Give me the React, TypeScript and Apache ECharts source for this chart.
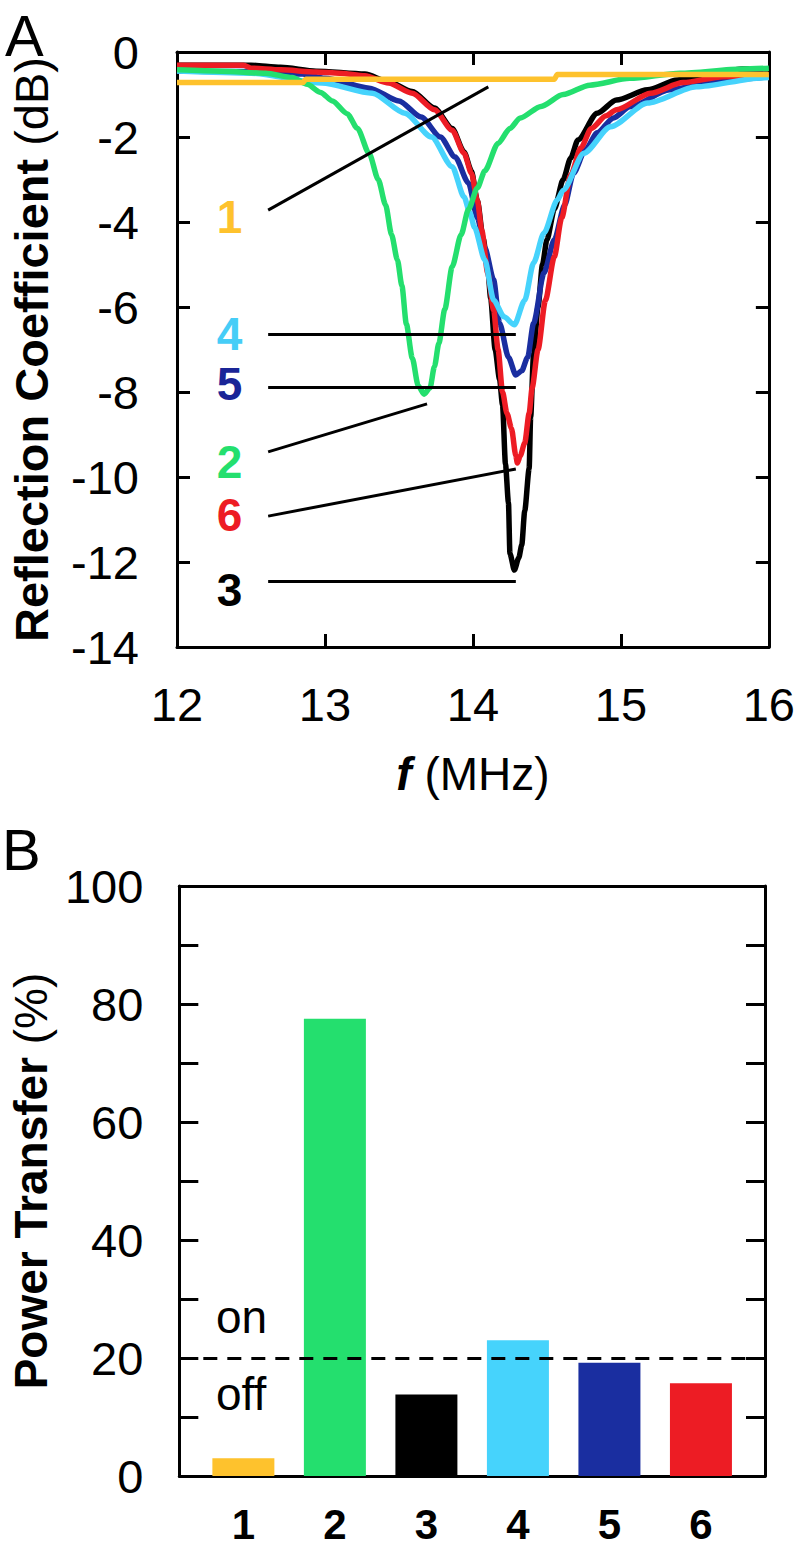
import React, { useEffect, useRef } from "react";
import * as echarts from "echarts";

const FONT = "'Liberation Sans', Arial, Helvetica, sans-serif";

// ---------- Panel A: reflection coefficient curves [f (MHz), dB] ----------
const curve1: number[][] = [
  [12, -0.72], [12.85, -0.72], [12.87, -0.64], [14.55, -0.64], [14.57, -0.53], [16, -0.53],
];
const curve2: number[][] = [
  [12, -0.42], [12.3, -0.45], [12.6, -0.5], [12.78, -0.6], [12.88, -0.76],
  [12.97, -0.95], [13.05, -1.15], [13.15, -1.45], [13.22, -1.8], [13.3, -2.4], [13.36, -3.0],
  [13.41, -3.6], [13.45, -4.3], [13.49, -4.9], [13.52, -5.5], [13.55, -6.4], [13.59, -7.2],
  [13.63, -7.85], [13.67, -8.05], [13.71, -7.9], [13.74, -7.4], [13.77, -6.85], [13.81, -6.05],
  [13.86, -5.05], [13.92, -4.3], [13.97, -3.7], [14.03, -3.2], [14.08, -2.8], [14.17, -2.15],
  [14.25, -1.8], [14.32, -1.55], [14.46, -1.28], [14.61, -1.0], [14.79, -0.78], [15.06, -0.62],
  [15.4, -0.5], [15.82, -0.4], [16, -0.38],
];
const curve3: number[][] = [
  [12, -0.31], [12.5, -0.31], [12.7, -0.36], [12.94, -0.45], [13.27, -0.52], [13.43, -0.7],
  [13.59, -0.93], [13.74, -1.32], [13.86, -1.8], [13.94, -2.35], [13.99, -2.8], [14.03, -3.5],
  [14.07, -4.4], [14.1, -5.1], [14.12, -5.8], [14.15, -7.0], [14.18, -7.7], [14.2, -8.3],
  [14.22, -9.7], [14.24, -10.6], [14.25, -11.8], [14.28, -12.19], [14.31, -11.9], [14.33, -11.6],
  [14.35, -10.8], [14.38, -9.8], [14.39, -8.6], [14.41, -7.1], [14.44, -6.0], [14.47, -5.0],
  [14.5, -4.42], [14.55, -3.7], [14.61, -3.0], [14.66, -2.5], [14.71, -2.07], [14.84, -1.44],
  [14.97, -1.13], [15.18, -0.89], [15.38, -0.66], [15.58, -0.54], [15.82, -0.4], [16, -0.4],
];
const curve4: number[][] = [
  [12, -0.45], [12.5, -0.5], [12.98, -0.73], [13.32, -0.97], [13.54, -1.44], [13.72, -2.0],
  [13.86, -2.7], [13.94, -3.41], [13.98, -3.79], [14.01, -4.12], [14.08, -4.89], [14.14, -5.84],
  [14.21, -6.23], [14.28, -6.42], [14.35, -5.84], [14.41, -4.96], [14.48, -4.26], [14.57, -3.48],
  [14.61, -3.25], [14.75, -2.38], [14.93, -1.76], [15.18, -1.2], [15.51, -0.82], [15.95, -0.61],
  [16, -0.6],
];
const curve5: number[][] = [
  [12, -0.45], [12.5, -0.46], [12.85, -0.52], [13.0, -0.62], [13.3, -0.85], [13.5, -1.15],
  [13.65, -1.53], [13.78, -2.0], [13.88, -2.47], [13.97, -3.08], [14.03, -3.9], [14.08, -4.6],
  [14.14, -5.36], [14.18, -6.38], [14.24, -7.18], [14.29, -7.6], [14.33, -7.5], [14.37, -7.18],
  [14.41, -6.38], [14.48, -5.2], [14.55, -4.42], [14.62, -3.6], [14.68, -2.85], [14.76, -2.3],
  [14.84, -1.9], [14.95, -1.55], [15.06, -1.29], [15.33, -0.89], [15.69, -0.66], [16, -0.58],
];
const curve6: number[][] = [
  [12, -0.31], [12.45, -0.31], [12.5, -0.38], [12.7, -0.42], [12.94, -0.47], [13.1, -0.5],
  [13.27, -0.56], [13.43, -0.73], [13.59, -0.97], [13.74, -1.36], [13.86, -1.84], [13.94, -2.38],
  [13.99, -2.85], [14.03, -3.5], [14.06, -4.2], [14.1, -5.2], [14.14, -6.07], [14.17, -7.0],
  [14.2, -8.0], [14.23, -8.5], [14.26, -8.85], [14.29, -9.5], [14.3, -9.67], [14.32, -9.5],
  [14.35, -9.2], [14.38, -8.5], [14.4, -7.9], [14.44, -7.0], [14.49, -5.84], [14.55, -4.82],
  [14.6, -3.9], [14.66, -2.9], [14.73, -2.25], [14.8, -1.8], [14.9, -1.5], [14.97, -1.36],
  [15.2, -0.97], [15.42, -0.72], [15.69, -0.58], [16, -0.55],
];

const curveNames = ["1", "2", "3", "4", "5", "6"];
const curveColors = ["#FEC22D", "#24DF6E", "#000000", "#46D3FC", "#1A2EA0", "#ED1C24"];
const labelColors = ["#FEC22D", "#24DF6E", "#000000", "#46CDF7", "#1A2597", "#ED1C24"];
const curves = [curve1, curve2, curve3, curve4, curve5, curve6];
const drawOrder = [2, 4, 5, 3, 1, 0]; // black, blue, red, cyan, green, yellow

// annotation leader lines (data coords) and number labels
const leaderLines: number[][][] = [
  [[12.616, -3.72], [14.104, -0.82]],
  [[12.616, -9.41], [13.69, -8.28]],
  [[12.616, -12.45], [14.29, -12.45]],
  [[12.616, -6.64], [14.29, -6.64]],
  [[12.616, -7.88], [14.29, -7.88]],
  [[12.616, -10.92], [14.29, -9.81]],
];
const labelPos: number[][] = [
  [12.355, -3.88], [12.355, -9.65], [12.355, -12.66], [12.355, -6.63], [12.355, -7.81], [12.355, -10.89],
];

// ---------- Panel B: power transfer ----------
const barCategories = [1, 2, 3, 4, 5, 6];
const barValues = [3.0, 77.5, 13.8, 23.0, 19.2, 15.7];
const threshold = 20;
const onPos = [0.7, 26.9];
const offPos = [0.7, 13.9];

const axisLineStyle = { color: "#000", width: 3 };

export default function App() {
  const ref = useRef<HTMLDivElement>(null);
  useEffect(() => {
    if (!ref.current) return;
    const chart = echarts.init(ref.current, undefined, { renderer: "svg" });
    const tickLabel = { fontSize: 47, color: "#000", fontFamily: FONT };
    const option: any = {
      animation: false,
      grid: [
        { left: 173, top: 52, width: 597, height: 595 },
        { left: 173, top: 886, width: 592, height: 590 },
      ],
      xAxis: [
        {
          gridIndex: 0, type: "value", min: 12, max: 16, interval: 1, position: "bottom",
          axisLine: { onZero: false, lineStyle: axisLineStyle },
          axisTick: { inside: true, length: 13, lineStyle: { width: 3, color: "#000" } },
          axisLabel: { ...tickLabel, margin: 34 },
          splitLine: { show: false },
          name: "{i|f} (MHz)", nameLocation: "middle", nameGap: 104,
          nameTextStyle: {
            fontSize: 46, color: "#000", fontFamily: FONT,
            rich: { i: { fontSize: 46, fontStyle: "italic", fontWeight: "bold", fontFamily: FONT, color: "#000" } },
          },
        },
        {
          gridIndex: 0, type: "value", min: 12, max: 16, interval: 1, position: "top",
          axisLine: { onZero: false, lineStyle: axisLineStyle },
          axisTick: { inside: true, length: 13, lineStyle: { width: 3, color: "#000" } },
          axisLabel: { show: false }, splitLine: { show: false },
        },
        {
          gridIndex: 1, type: "value", min: 0.3, max: 6.7, position: "bottom",
          axisLine: { onZero: false, lineStyle: axisLineStyle },
          axisTick: { show: false },
          axisLabel: { fontSize: 42, fontWeight: "bold", color: "#000", fontFamily: FONT, margin: 27, customValues: barCategories },
          splitLine: { show: false },
        },
        {
          gridIndex: 1, type: "value", min: 0.3, max: 6.7, position: "top",
          axisLine: { onZero: false, lineStyle: axisLineStyle },
          axisTick: { show: false }, axisLabel: { show: false }, splitLine: { show: false },
        },
      ],
      yAxis: [
        {
          gridIndex: 0, type: "value", min: -14, max: 0, interval: 2, position: "left",
          axisLine: { onZero: false, lineStyle: axisLineStyle },
          axisTick: { inside: true, length: 13, lineStyle: { width: 3, color: "#000" } },
          axisLabel: { ...tickLabel, margin: 38 },
          splitLine: { show: false },
          name: "{b|Reflection Coefficient} (dB)", nameLocation: "middle", nameGap: 122,
          nameTextStyle: {
            fontSize: 47, color: "#000", fontFamily: FONT,
            rich: { b: { fontSize: 47, fontWeight: "bold", fontFamily: FONT, color: "#000" } },
          },
        },
        {
          gridIndex: 0, type: "value", min: -14, max: 0, interval: 2, position: "right",
          axisLine: { onZero: false, lineStyle: axisLineStyle },
          axisTick: { inside: true, length: 13, lineStyle: { width: 3, color: "#000" } },
          axisLabel: { show: false }, splitLine: { show: false },
        },
        {
          gridIndex: 1, type: "value", min: 0, max: 100, interval: 10, position: "left",
          axisLine: { onZero: false, lineStyle: axisLineStyle },
          axisTick: { inside: true, length: 19, lineStyle: { width: 3, color: "#000" } },
          axisLabel: { ...tickLabel, margin: 36, formatter: (v: number) => (v % 20 === 0 ? String(v) : "") },
          splitLine: { show: false },
          name: "{b|Power Transfer} (%)", nameLocation: "middle", nameGap: 122,
          nameTextStyle: {
            fontSize: 46, color: "#000", fontFamily: FONT,
            rich: { b: { fontSize: 46, fontWeight: "bold", fontFamily: FONT, color: "#000" } },
          },
        },
        {
          gridIndex: 1, type: "value", min: 0, max: 100, interval: 10, position: "right",
          axisLine: { onZero: false, lineStyle: axisLineStyle },
          axisTick: { inside: true, length: 19, lineStyle: { width: 3, color: "#000" } },
          axisLabel: { show: false }, splitLine: { show: false },
        },
      ],
      series: [
        ...drawOrder.map((i) => ({
          type: "line",
          name: curveNames[i],
          xAxisIndex: 0,
          yAxisIndex: 0,
          data: curves[i],
          showSymbol: false,
          symbol: "none",
          smooth: 0.25,
          smoothMonotone: "x",
          lineStyle: { width: 5.5, color: curveColors[i] },
          z: 2,
          ...(i === 0
            ? {
                markLine: {
                  silent: true,
                  symbol: ["none", "none"],
                  label: { show: false },
                  lineStyle: { color: "#000", width: 3, type: "solid" },
                  data: leaderLines.map((l) => [{ coord: l[0] }, { coord: l[1] }]),
                },
              }
            : {}),
        })),
        {
          type: "bar",
          xAxisIndex: 2,
          yAxisIndex: 2,
          barWidth: 62,
          data: barValues.map((v, i) => ({ value: [barCategories[i], v], itemStyle: { color: curveColors[i] } })),
          markLine: {
            silent: true,
            symbol: ["none", "none"],
            label: { show: false },
            lineStyle: { color: "#000", width: 3, type: [14, 10] },
            data: [{ yAxis: threshold }],
          },
        },
      ],
    };
    chart.setOption(option);

    const graphics: any[] = [
      { type: "text", left: 5, top: 6, style: { text: "A", fontSize: 58, fontFamily: FONT, fill: "#000" } },
      { type: "text", left: 2, top: 820, style: { text: "B", fontSize: 58, fontFamily: FONT, fill: "#000" } },
    ];
    labelPos.forEach((p, i) => {
      const px = chart.convertToPixel({ xAxisIndex: 0, yAxisIndex: 0 }, p) as number[];
      graphics.push({
        type: "text", x: px[0], y: px[1],
        style: { text: curveNames[i], fill: labelColors[i], fontSize: 46, fontWeight: "bold", fontFamily: FONT, align: "center", verticalAlign: "middle" },
      });
    });
    const onPx = chart.convertToPixel({ xAxisIndex: 2, yAxisIndex: 2 }, onPos) as number[];
    const offPx = chart.convertToPixel({ xAxisIndex: 2, yAxisIndex: 2 }, offPos) as number[];
    graphics.push({ type: "text", x: onPx[0], y: onPx[1], style: { text: "on", fill: "#000", fontSize: 46, fontFamily: FONT, align: "left", verticalAlign: "middle" } });
    graphics.push({ type: "text", x: offPx[0], y: offPx[1], style: { text: "off", fill: "#000", fontSize: 46, fontFamily: FONT, align: "left", verticalAlign: "middle" } });
    chart.setOption({ graphic: graphics });

    return () => chart.dispose();
  }, []);
  return <div ref={ref} style={{ position: "absolute", left: 0, top: 0, width: 798, height: 1552, background: "#fff" }} />;
}
